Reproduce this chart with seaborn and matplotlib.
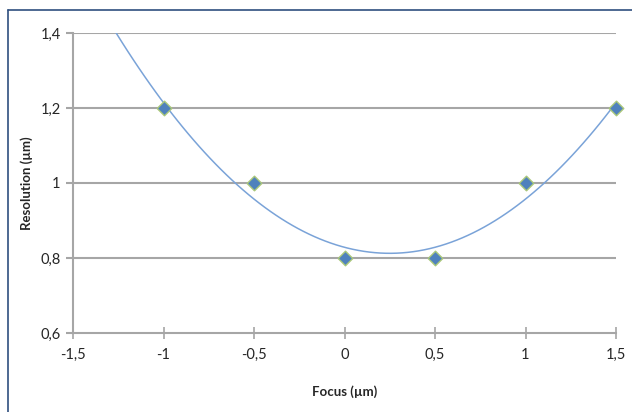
import numpy as np
import pandas as pd
import seaborn as sns
import matplotlib.pyplot as plt
from matplotlib.lines import Line2D
from matplotlib.ticker import FuncFormatter

focus = [-1.0, -0.5, 0.0, 0.5, 1.0, 1.5]
resolution = [1.2, 1.0, 0.8, 0.8, 1.0, 1.2]
x_ticks = [-1.5, -1.0, -0.5, 0.0, 0.5, 1.0, 1.5]
y_ticks = [0.6, 0.8, 1.0, 1.2, 1.4]


def comma_fmt(v, pos):
    s = f"{v:g}"
    return s.replace(".", ",")


def main():
    sns.set_style("white")
    plt.rcParams['font.family'] = ['Lato', 'DejaVu Sans']
    df = pd.DataFrame({"Focus": focus, "Resolution": resolution})

    fig = plt.figure(figsize=(6.32, 4.12), dpi=100)
    ax = fig.add_axes([73 / 632, 1 - 333 / 412, 543 / 632, 300 / 412])
    ax.set_xlim(-1.5, 1.5)
    ax.set_ylim(0.6, 1.4)

    grid_col = "#a6a6a6"
    for y in y_ticks[1:]:
        ax.axhline(y, color=grid_col, lw=1.5, zorder=0)

    # polynomial trendline (order 2), extended over the whole axis range
    sns.regplot(data=df, x="Focus", y="Resolution", order=2, ci=None,
                truncate=False, scatter=False, ax=ax,
                line_kws={"color": "#7aa3d8", "lw": 1.1, "zorder": 2})
    sns.scatterplot(data=df, x="Focus", y="Resolution", marker="D", s=55,
                    color="#4f81bd", edgecolor="#a9c77a", linewidth=1.0,
                    ax=ax, zorder=3, clip_on=False)

    ax.set_xticks(x_ticks)
    ax.set_yticks(y_ticks)
    ax.xaxis.set_major_formatter(FuncFormatter(comma_fmt))
    ax.yaxis.set_major_formatter(FuncFormatter(comma_fmt))

    for side in ["top", "right"]:
        ax.spines[side].set_visible(False)
    for side in ["left", "bottom"]:
        ax.spines[side].set_color(grid_col)
        ax.spines[side].set_linewidth(1.5)

    ax.tick_params(axis="x", direction="inout", length=9, width=1.2,
                   color=grid_col, labelsize=10.5, labelcolor="#262626", pad=6)
    ax.tick_params(axis="y", direction="out", length=5, width=1.5,
                   color=grid_col, labelsize=10.5, labelcolor="#262626", pad=4)
    ax.tick_params(bottom=True, left=True)

    ax.set_xlabel("Focus (µm)", fontsize=9.5, fontweight="bold", labelpad=17)
    ax.set_ylabel("Resolution (µm)", fontsize=9.5, fontweight="bold", labelpad=5)

    # chart area frame (top and left edges visible)
    frame_col = "#2f4f7f"
    fig.add_artist(Line2D([7.5 / 632, 1], [1 - 9.5 / 412, 1 - 9.5 / 412],
                          color=frame_col, lw=1.2, transform=fig.transFigure))
    fig.add_artist(Line2D([7.5 / 632, 7.5 / 632], [0, 1 - 9.5 / 412],
                          color=frame_col, lw=1.2, transform=fig.transFigure))

    fig.savefig("out.png", dpi=100)


if __name__ == "__main__":
    main()
